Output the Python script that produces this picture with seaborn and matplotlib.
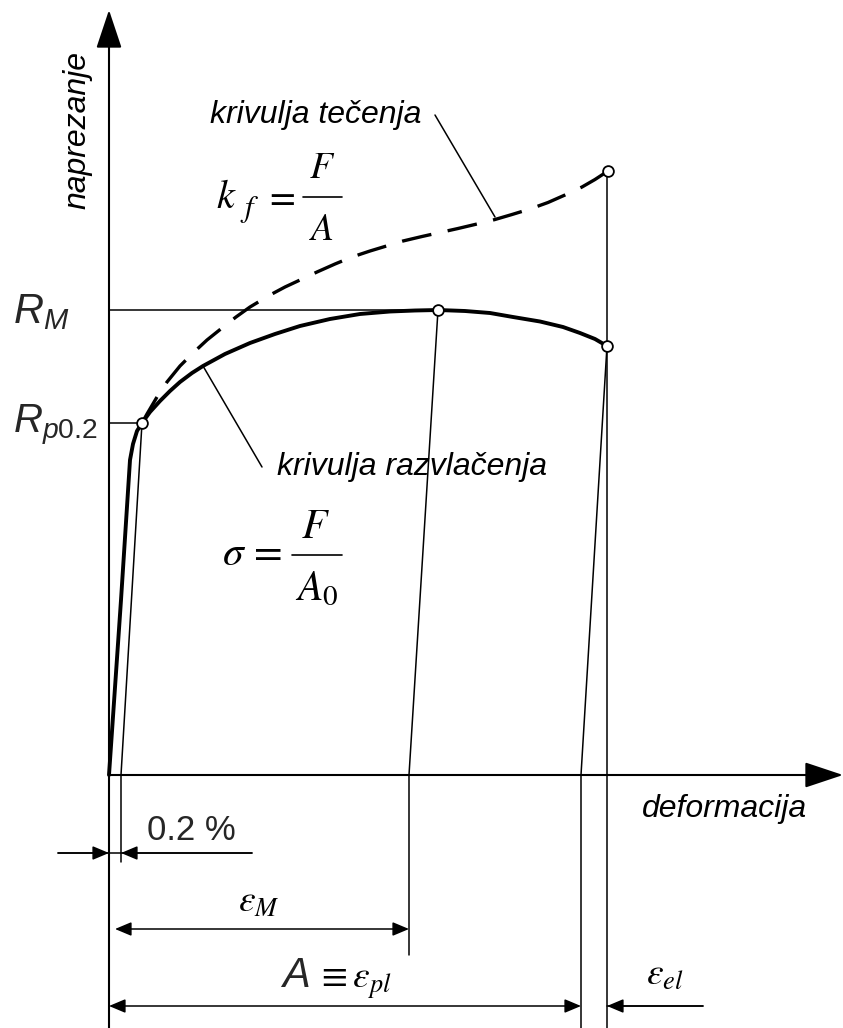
# Stress-strain diagram: engineering curve vs. flow curve
import matplotlib.pyplot as plt
import seaborn as sns
import pandas as pd

# -----------------------------
# Data (diagram units: strain to the right, stress upwards)
# -----------------------------
tensile_strain = [0, 12, 21, 24, 28, 33, 41, 51, 61, 71, 83, 94, 116, 141,
                  166, 191, 221, 251, 281, 306, 329, 356, 381, 404, 431, 454,
                  471, 486, 498]
tensile_stress = [0, 175, 315, 331, 344, 352, 363, 374, 384, 393, 402, 409,
                  421, 432, 441, 449, 456, 461, 463.5, 464.5, 465, 464, 462,
                  458, 453.5, 448, 442, 436, 429]

flow_strain = [33, 38, 48, 58, 71, 84, 98, 113, 127, 141, 161, 176, 191, 208,
               226, 243, 261, 294, 313, 331, 349, 368, 386, 403, 421, 439,
               456, 473, 486, 499]
flow_stress = [352, 361, 378, 393, 409, 422, 435, 447, 458, 468, 480, 488,
               495, 503, 511, 518, 524, 534, 538.5, 542.5, 546.5, 551, 555.5,
               560.5, 566, 572.5, 580, 588, 595.5, 604]

# characteristic points: Rp0.2, Rm, fracture (engineering), fracture (true)
point_strain = [33, 329, 498, 499]
point_stress = [352, 465, 429, 604]

rp02_stress = 352
rm_stress = 465
offset_strain = 12     # 0.2 %
eps_m = 300            # plastic strain at Rm
eps_pl = 472           # plastic strain at fracture
eps_break = 498        # total strain at fracture

tensile = pd.DataFrame({'strain': tensile_strain, 'stress': tensile_stress})
flow = pd.DataFrame({'strain': flow_strain, 'stress': flow_stress})
points = pd.DataFrame({'strain': point_strain, 'stress': point_stress})

# -----------------------------
# Style
# -----------------------------
sns.set_style('white')
plt.rcParams['font.family'] = ['Liberation Sans', 'DejaVu Sans']
plt.rcParams['mathtext.fontset'] = 'custom'
plt.rcParams['mathtext.it'] = 'Liberation Sans:italic'
plt.rcParams['mathtext.rm'] = 'Liberation Sans'
plt.rcParams['mathtext.sf'] = 'Liberation Sans'

fig = plt.figure(figsize=(8.43, 10.28), dpi=100)
ax = fig.add_axes([0, 0, 1, 1])
ax.set_xlim(-109, 734)
ax.set_ylim(-253, 775)
ax.axis('off')

K = 'black'
thin = 1.1


def arrow(tip, tail, style='-|>', hl=1.0, hw=0.42, lw=thin):
    ax.annotate('', xy=tip, xytext=tail,
                arrowprops=dict(arrowstyle=f'{style},head_length={hl},head_width={hw}',
                                lw=lw, color=K, shrinkA=0, shrinkB=0,
                                mutation_scale=10))


# axes with arrows
arrow((0, 765), (0, -253), hl=2.4, hw=0.8, lw=1.5)
arrow((734, 0), (0, 0), hl=2.4, hw=0.8, lw=1.5)

# horizontal level lines
ax.plot([0, point_strain[1]], [rm_stress, rm_stress], color=K, lw=thin)
ax.plot([0, point_strain[0]], [rp02_stress, rp02_stress], color=K, lw=thin)

# elastic unloading lines + extension lines
ax.plot([point_strain[0], offset_strain, offset_strain],
        [point_stress[0], 0, -87], color=K, lw=thin)
ax.plot([point_strain[1], eps_m, eps_m],
        [point_stress[1], 0, -180], color=K, lw=thin)
ax.plot([point_strain[2], eps_pl, eps_pl],
        [point_stress[2], 0, -253], color=K, lw=thin)
ax.plot([eps_break, eps_break], [point_stress[3], -253], color=K, lw=thin)

# curves
sns.lineplot(data=tensile, x='strain', y='stress', sort=False, ax=ax,
             color=K, lw=2.8, estimator=None)
sns.lineplot(data=flow, x='strain', y='stress', sort=False, ax=ax,
             color=K, lw=2.4, estimator=None)
ax.lines[-1].set_dashes((9, 5))

sns.scatterplot(data=points, x='strain', y='stress', ax=ax, s=60,
                facecolor='white', edgecolor=K, linewidth=1.3, zorder=5)
ax.set_xlabel('')
ax.set_ylabel('')

# leader lines
ax.plot([326, 386], [660, 558], color=K, lw=thin)
ax.plot([94, 153], [409, 308], color=K, lw=thin)

# dimension lines
ax.plot([-51, 143], [-78, -78], color=K, lw=thin)
arrow((0, -78), (-51, -78))
arrow((offset_strain, -78), (143, -78))
arrow((eps_m, -154), (6, -154), style='<|-|>')
arrow((eps_pl, -231), (0, -231), style='<|-|>')
ax.plot([eps_break, 594], [-231, -231], color=K, lw=thin)
arrow((eps_break, -231), (594, -231))

# labels
lab = dict(fontsize=23, style='italic', color=K)
ax.text(-32, 645, 'naprezanje', rotation=90, ha='center', va='center', **lab)
ax.text(533, -42, 'deformacija', ha='left', va='baseline', **lab)
ax.text(101, 652, 'krivulja tečenja', ha='left', va='baseline', **lab)
ax.text(168, 300, 'krivulja razvlačenja', ha='left', va='baseline', **lab)

ax.text(-96, 452, r'$R_M$', fontsize=30, ha='left', va='baseline')
ax.text(-96, 343, r'$R_{p\mathit{0.2}}$', fontsize=29, ha='left', va='baseline')
ax.text(38, -65, '0.2 %', fontsize=25, ha='left', va='baseline')

# k_f = F / A
mf = dict(math_fontfamily='stix', color=K)
ax.text(107, 567, r'$k$', fontsize=29, ha='left', va='baseline', **mf)
ax.text(131, 558, r'$f$', fontsize=22, ha='left', va='baseline', **mf)
ax.text(171, 567, r'$=$', fontsize=27, ha='center', va='baseline', **mf)
ax.plot([194, 233], [578, 578], color=K, lw=1.2)
ax.text(213, 597, r'$F$', fontsize=27, ha='center', va='baseline', **mf)
ax.text(213, 535, r'$A$', fontsize=27, ha='center', va='baseline', **mf)

# sigma = F / A0
ax.text(173, 210, r'$\sigma\,=$', fontsize=30, ha='right', va='baseline', **mf)
ax.plot([183, 233], [220, 220], color=K, lw=1.2)
ax.text(206, 237, r'$F$', fontsize=30, ha='center', va='baseline', **mf)
ax.text(208, 175, r'$A_0$', fontsize=30, ha='center', va='baseline', **mf)

ax.text(129, -137, r'$\varepsilon_M$', fontsize=27, ha='left', va='baseline', **mf)
ax.text(173, -212, 'A', fontsize=30, style='italic', ha='left', va='baseline')
ax.text(207, -213, r'$\equiv\varepsilon_{pl}$', fontsize=27, ha='left',
        va='baseline', **mf)
ax.text(537, -210, r'$\varepsilon_{el}$', fontsize=27, ha='left',
        va='baseline', **mf)

plt.savefig('out.png', dpi=100)
